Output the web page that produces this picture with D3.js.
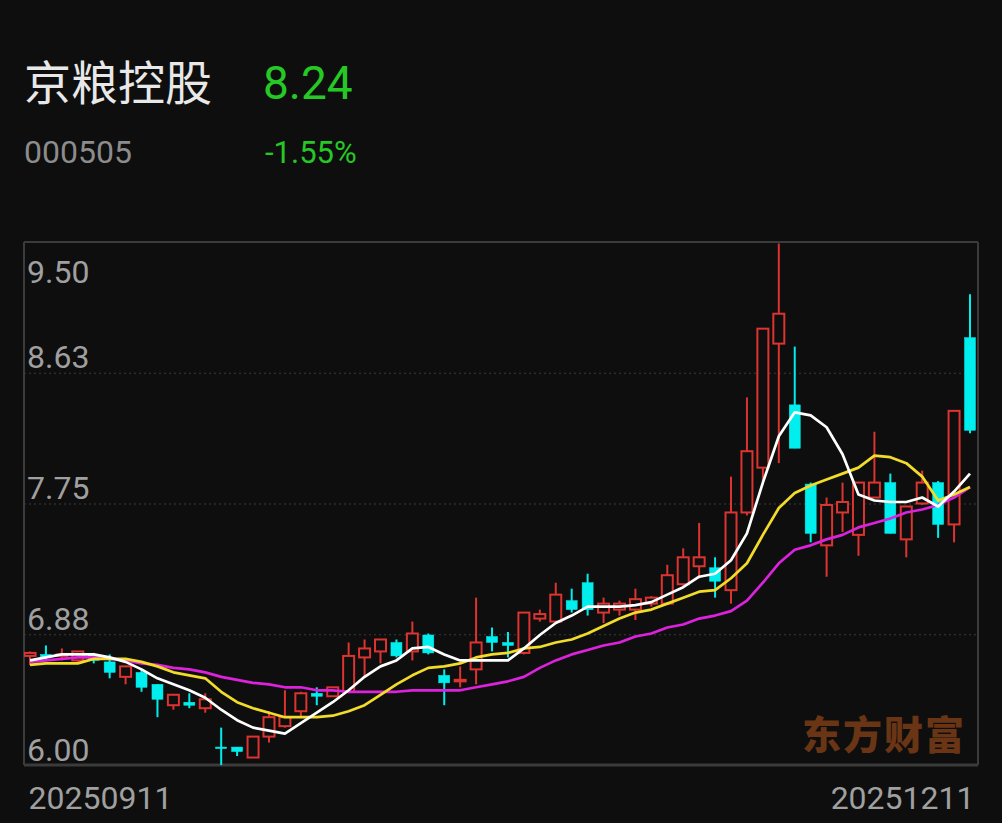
<!DOCTYPE html>
<html><head><meta charset="utf-8">
<script src="https://cdn.jsdelivr.net/npm/d3@7/dist/d3.min.js"></script>
<style>
html,body{margin:0;padding:0;background:#0e0e0e;}
svg{display:block;}
</style></head>
<body>
<svg id="chart" width="1002" height="823"></svg>
<script>
const stockName = "京粮控股";
const stockCode = "000505";
const lastPrice = "8.24";
const changePct = "-1.55%";
const watermark = "东方财富";

const dates = ["20250911","20250912","20250915","20250916","20250917","20250918","20250919","20250922","20250923","20250924",
"20250925","20250926","20250929","20250930","20251009","20251010","20251013","20251014","20251015","20251016",
"20251017","20251020","20251021","20251022","20251023","20251024","20251027","20251028","20251029","20251030",
"20251031","20251103","20251104","20251105","20251106","20251107","20251110","20251111","20251112","20251113",
"20251114","20251117","20251118","20251119","20251120","20251121","20251124","20251125","20251126","20251127",
"20251128","20251201","20251202","20251203","20251204","20251205","20251208","20251209","20251210","20251211"];

const openP  = [6.73,6.74,6.73,6.70,6.74,6.69,6.59,6.62,6.54,6.40,6.42,6.38,6.12,6.12,6.05,6.19,6.26,6.36,6.48,6.46,
6.49,6.72,6.76,6.82,6.76,6.87,6.60,6.56,6.64,6.86,6.82,6.75,6.98,6.96,7.10,7.22,7.02,7.04,7.04,7.08,
7.08,7.21,7.33,7.32,7.17,7.69,7.99,8.82,8.41,7.88,7.47,7.69,7.54,7.79,7.89,7.51,7.75,7.89,7.61,8.86];
const highP  = [6.76,6.80,6.78,6.76,6.75,6.74,6.66,6.64,6.54,6.47,6.48,6.48,6.25,6.12,6.19,6.36,6.50,6.49,6.52,6.52,
6.82,6.84,6.84,6.84,6.96,6.88,6.64,6.66,7.12,6.92,6.89,7.02,7.04,7.22,7.18,7.28,7.12,7.10,7.18,7.13,
7.34,7.45,7.62,7.39,7.93,8.46,8.92,9.49,8.80,7.89,7.79,7.89,7.89,8.23,7.95,7.73,7.97,7.90,8.37,9.15];
const lowP   = [6.67,6.70,6.70,6.69,6.68,6.58,6.54,6.49,6.32,6.37,6.38,6.35,5.99,6.06,6.05,6.15,6.25,6.32,6.40,6.46,
6.48,6.59,6.68,6.72,6.70,6.74,6.40,6.52,6.54,6.76,6.72,6.74,6.96,6.96,7.02,7.00,6.95,7.00,6.97,7.06,
7.07,7.20,7.25,7.12,7.08,7.67,7.89,8.02,8.12,7.49,7.26,7.56,7.40,7.79,7.55,7.39,7.74,7.52,7.49,8.22];
const closeP = [6.75,6.72,6.74,6.76,6.70,6.62,6.66,6.52,6.44,6.47,6.40,6.44,6.11,6.09,6.19,6.32,6.32,6.48,6.46,6.52,
6.73,6.78,6.84,6.73,6.88,6.75,6.55,6.57,6.82,6.82,6.80,7.02,7.01,7.14,7.04,7.04,7.08,7.08,7.11,7.12,
7.27,7.39,7.39,7.23,7.69,8.10,8.92,9.02,8.12,7.55,7.74,7.76,7.89,7.89,7.55,7.73,7.89,7.61,8.37,8.24];

const ma5  = [6.70,6.72,6.74,6.74,6.74,6.72,6.69,6.64,6.58,6.54,6.50,6.45,6.37,6.30,6.25,6.23,6.21,6.28,6.35,6.42,
6.50,6.59,6.66,6.70,6.78,6.79,6.74,6.70,6.70,6.70,6.70,6.78,6.87,6.95,7.00,7.06,7.06,7.06,7.07,7.09,
7.14,7.19,7.26,7.28,7.37,7.55,7.89,8.20,8.36,8.34,8.26,8.08,7.81,7.77,7.76,7.76,7.79,7.73,7.83,7.95];
const ma10 = [6.67,6.68,6.68,6.68,6.71,6.71,6.71,6.69,6.66,6.62,6.60,6.58,6.49,6.42,6.38,6.35,6.32,6.32,6.32,6.33,
6.36,6.40,6.47,6.54,6.60,6.65,6.66,6.68,6.72,6.74,6.75,6.78,6.79,6.82,6.84,6.88,6.93,6.98,7.02,7.04,
7.08,7.12,7.16,7.17,7.25,7.35,7.54,7.72,7.82,7.87,7.91,7.95,7.99,8.07,8.06,8.02,7.93,7.77,7.81,7.86];
const ma20 = [6.69,6.70,6.71,6.72,6.72,6.71,6.70,6.68,6.67,6.65,6.64,6.62,6.59,6.57,6.55,6.54,6.52,6.52,6.50,6.50,
6.49,6.49,6.49,6.49,6.50,6.50,6.50,6.50,6.52,6.54,6.56,6.59,6.65,6.70,6.74,6.77,6.80,6.82,6.86,6.88,
6.92,6.94,6.98,7.00,7.03,7.10,7.22,7.35,7.44,7.47,7.51,7.54,7.59,7.62,7.65,7.69,7.71,7.74,7.79,7.86];

const yTickValues = [9.50, 8.625, 7.75, 6.875, 6.00];
const yTickLabels = ["9.50","8.63","7.75","6.88","6.00"];

const svg = d3.select("#chart");
const W = 1002, H = 823;
const plot = {left: 24, right: 978, top: 242, bottom: 765};

svg.append("rect").attr("width", W).attr("height", H).attr("fill", "#0e0e0e");

// Header
svg.append("text").attr("x", 24).attr("y", 100).text(stockName)
  .attr("fill", "#e8e8e8").attr("font-family", "'Noto Sans CJK SC', sans-serif").attr("font-size", 47);
svg.append("text").attr("x", 263).attr("y", 99).text(lastPrice)
  .attr("fill", "#26c826").attr("font-family", "Roboto, sans-serif").attr("font-size", 46);
svg.append("text").attr("x", 24).attr("y", 163).text(stockCode)
  .attr("fill", "#8c8c8c").attr("font-family", "Roboto, sans-serif").attr("font-size", 32);
svg.append("text").attr("x", 265).attr("y", 163).text(changePct)
  .attr("fill", "#26c826").attr("font-family", "Roboto, sans-serif").attr("font-size", 31);

const x = d3.scalePoint().domain(dates).range([30, 970]);
const y = d3.scaleLinear().domain([6.00, 9.50]).range([plot.bottom, plot.top]);

// grid lines (dotted) via axis
const grid = svg.append("g").attr("transform", `translate(${plot.left},0)`)
  .call(d3.axisRight(y).tickValues(yTickValues.slice(1, 4)).tickSize(plot.right - plot.left).tickFormat(""));
grid.select(".domain").remove();
grid.selectAll("line").attr("stroke", "#3a3a3a").attr("stroke-width", 1.2).attr("stroke-dasharray", "2,3");

// frame
svg.append("line").attr("x1", plot.left).attr("x2", plot.right).attr("y1", plot.top).attr("y2", plot.top)
  .attr("stroke", "#3b3b3b").attr("stroke-width", 2);
svg.append("line").attr("x1", plot.left).attr("x2", plot.right).attr("y1", plot.bottom).attr("y2", plot.bottom)
  .attr("stroke", "#3b3b3b").attr("stroke-width", 3);
svg.append("line").attr("x1", plot.left).attr("x2", plot.left).attr("y1", plot.top).attr("y2", plot.bottom)
  .attr("stroke", "#3b3b3b").attr("stroke-width", 2);
svg.append("line").attr("x1", plot.right).attr("x2", plot.right).attr("y1", plot.top).attr("y2", plot.bottom)
  .attr("stroke", "#3b3b3b").attr("stroke-width", 2);

// watermark
svg.append("text").attr("x", 802).attr("y", 749).text(watermark)
  .attr("fill", "#6a3514").attr("font-family", "'Noto Sans CJK SC', sans-serif").attr("font-weight", 900)
  .attr("font-size", 39).attr("letter-spacing", 2);

// y labels
const yAxis = svg.append("g").attr("transform", `translate(${plot.left},0)`)
  .call(d3.axisRight(y).tickValues(yTickValues).tickSize(0)
    .tickFormat((d, i) => yTickLabels[i]));
yAxis.select(".domain").remove();
yAxis.selectAll("text")
  .attr("x", 3)
  .attr("dy", (d, i) => i === 0 ? "1.28em" : "-0.15em")
  .attr("fill", "#a0a0a0").attr("font-family", "Roboto, sans-serif").attr("font-size", 32)
  .attr("text-anchor", "start");

// x labels
const xAxis = svg.append("g").attr("transform", `translate(0,${plot.bottom})`)
  .call(d3.axisBottom(x).tickValues([dates[0], dates[dates.length - 1]]).tickSize(0));
xAxis.select(".domain").remove();
xAxis.selectAll("text")
  .attr("y", 44).attr("dy", 0)
  .attr("fill", "#a0a0a0").attr("font-family", "Roboto, sans-serif").attr("font-size", 32)
  .attr("text-anchor", (d, i) => i === 0 ? "start" : "end")
  .attr("x", (d, i) => i === 0 ? -2 : 4);

// clip
svg.append("clipPath").attr("id", "clip").append("rect")
  .attr("x", plot.left).attr("y", plot.top).attr("width", plot.right - plot.left).attr("height", plot.bottom - plot.top);

const candles = dates.map((d, i) => ({d, o: openP[i], h: highP[i], l: lowP[i], c: closeP[i]}));
const UP = "#dc3430", DOWN = "#00eeee";
const bw = 11;
const cg = svg.append("g").attr("clip-path", "url(#clip)");

cg.selectAll(".wick").data(candles).join("line")
  .attr("x1", d => x(d.d)).attr("x2", d => x(d.d))
  .attr("y1", d => y(d.h)).attr("y2", d => y(d.l))
  .attr("stroke", d => d.c >= d.o ? UP : DOWN).attr("stroke-width", 2);

cg.selectAll(".body").data(candles).join("rect")
  .attr("x", d => x(d.d) - bw / 2)
  .attr("y", d => y(Math.max(d.o, d.c)))
  .attr("width", bw)
  .attr("height", d => Math.max(1.5, Math.abs(y(d.o) - y(d.c))))
  .attr("fill", d => d.c >= d.o ? "#0e0e0e" : DOWN)
  .attr("stroke", d => d.c >= d.o ? UP : DOWN)
  .attr("stroke-width", d => d.c >= d.o ? 2 : 0.5);

const line = d3.line().x((d, i) => x(dates[i])).y(d => y(d));
const lines = [[ma20, "#dc22dc"], [ma10, "#f2dc2a"], [ma5, "#ffffff"]];
lines.forEach(([arr, col]) => {
  cg.append("path").datum(arr).attr("d", line).attr("fill", "none")
    .attr("stroke", col).attr("stroke-width", 2.7).attr("stroke-linejoin", "round");
});
</script>
</body></html>
